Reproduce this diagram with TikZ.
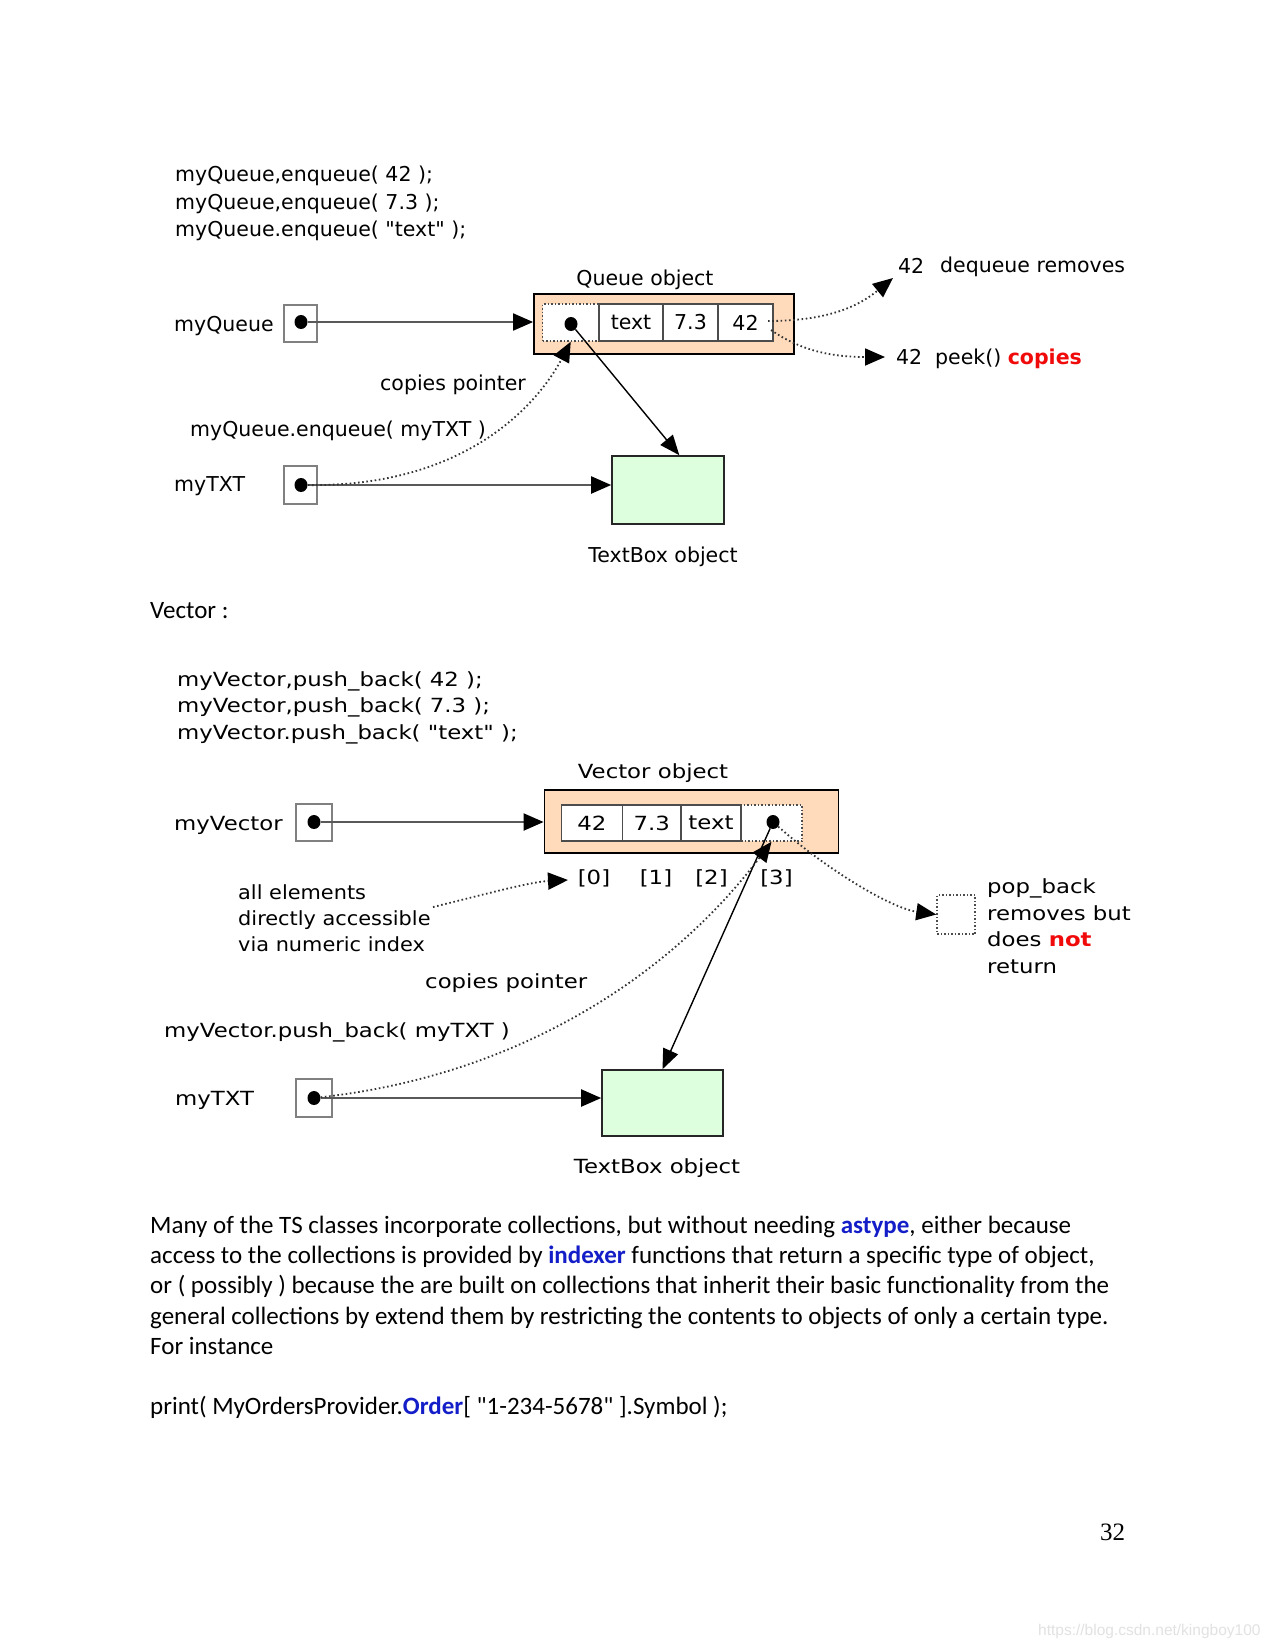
\documentclass[tikz,border=0pt]{standalone}
\usepackage{fontspec}
\setmainfont{Liberation Serif}
\newfontfamily\qfam{DejaVu Sans}
\newfontfamily\vfam[FakeStretch=1.17]{DejaVu Sans}
\newfontfamily\afam[FakeStretch=1.07]{DejaVu Sans}
\newfontfamily\bodyfam{Carlito}
\newfontfamily\wmfam{Liberation Sans}
\usetikzlibrary{arrows.meta,calc,shapes.geometric}
\definecolor{peach}{RGB}{255,219,188}
\definecolor{mint}{RGB}{222,255,222}
\definecolor{lnk}{RGB}{20,30,200}
\definecolor{hot}{RGB}{240,10,10}
\definecolor{wmk}{RGB}{226,226,226}
\newcommand\qfnt{\qfam\fontsize{20.5}{24}\selectfont}
\newcommand\vfnt{\vfam\fontsize{19.5}{23}\selectfont}
\newcommand\afnt{\afam\fontsize{19.5}{23}\selectfont}
\newcommand\bodyfnt{\bodyfam\fontsize{25}{30}\selectfont}
\tikzset{
  lbl/.style={inner sep=0pt, anchor=base west},
  qlbl/.style={lbl, font=\qfnt},
  vlbl/.style={lbl, font=\vfnt},
  albl/.style={lbl, font=\afnt},
  bodylbl/.style={lbl, font=\bodyfnt},
  outerbox/.style={draw=black, line width=1.8pt, fill=peach, inner sep=0pt},
  cellbox/.style={draw=black!70, line width=1.6pt, fill=white, inner sep=0pt},
  dotcell/.style={draw=black!70, line width=1.5pt, dash pattern=on 1.5pt off 2pt, fill=white, inner sep=0pt},
  ptrbox/.style={draw=black!50, line width=2.2pt, fill=white, inner sep=0pt},
  objbox/.style={draw=black!85, line width=1.6pt, fill=mint, inner sep=0pt},
  pdot/.style={ellipse, fill=black, inner sep=0pt, minimum width=13pt, minimum height=14pt},
  ptrline/.style={draw=black!65, line width=2pt, -{Triangle[length=20pt,width=17pt,color=black]}},
  solidarr/.style={draw=black, line width=1.4pt, -{Triangle[length=20pt,width=16pt]}},
  dotarr/.style={draw=black!80, line width=1.8pt, dash pattern=on 1.6pt off 2.6pt, -{Triangle[length=20pt,width=17pt,color=black]}}
}
\begin{document}
\begin{tikzpicture}[x=1pt,y=-1pt]
\useasboundingbox[fill=white] (0,0) rectangle (1275,1650);

% ---------------- Queue ----------------
\node[qlbl] (qcode1) at (175,181.5) {myQueue,enqueue( 42 );};
\node[qlbl] (qcode2) at (175,209) {myQueue,enqueue( 7.3 );};
\node[qlbl] (qcode3) at (175,236.5) {myQueue.enqueue( "text" );};
\node[qlbl, anchor=base] (qtitle) at (645,285) {Queue object};

\node[outerbox, minimum width=260pt, minimum height=60pt] (qobj) at (664,324) {};
\node[dotcell, minimum width=56.5pt, minimum height=37pt] (qc0) at (570.75,322.5) {};
\node[cellbox, minimum width=64pt, minimum height=37pt, font=\qfnt] (qc1) at (631,322.5) {text};
\node[cellbox, minimum width=55pt, minimum height=37pt, font=\qfnt] (qc2) at (690.5,322.5) {7.3};
\node[cellbox, minimum width=55pt, minimum height=37pt, font=\qfnt] (qc3) at (745.5,322.5) {42};
\node[pdot] (qdot) at (571,324) {};

\node[qlbl] (qname) at (174,331) {myQueue};
\node[ptrbox, minimum width=33pt, minimum height=37pt] (qpb) at (300.5,323.5) {};
\node[pdot] (qpd) at (301,322) {};

\node[qlbl] (qcp) at (380,390) {copies pointer};
\node[qlbl] (qenq) at (190,436) {myQueue.enqueue( myTXT )};
\node[qlbl] (qtxtname) at (174,491) {myTXT};
\node[ptrbox, minimum width=33pt, minimum height=38pt] (qtb) at (300.5,485) {};
\node[pdot] (qtd) at (301,485) {};
\node[objbox, minimum width=112pt, minimum height=68pt] (tq) at (668,490) {};
\node[qlbl, anchor=base] (qtbl) at (663,562) {TextBox object};

\node[qlbl] (d42) at (898,273.5) {42};
\node[qlbl] (dtext) at (940,272) {dequeue removes};
\node[qlbl] (p42) at (896,364.5) {42};
\node[qlbl] (ptext) at (935,364.5) {peek() {\color{hot}\bfseries copies}};

\draw[ptrline] (qpd) -- (qpd -| qobj.west);
\draw[solidarr] (qdot) -- (tq.72);
\draw[ptrline] (qtd) -- (qtd -| tq.west);
\draw[dotarr] (qtd) .. controls (470,487) and (540,400) .. (qc0.south);
\coordinate (deqs) at (768,321);
\coordinate (deqt) at (893,278);
\draw[dotarr] (deqs) .. controls (830,321) and (860,305) .. (deqt);
\coordinate (peks) at (771,330);
\coordinate (pekt) at (885,357);
\draw[dotarr] (peks) .. controls (800,350) and (830,357) .. (pekt);

% ---------------- Vector ----------------
\node[bodylbl] (vhead) at (150,618) {Vector :};
\node[vlbl] (vcode1) at (177,686) {myVector,push\_back( 42 );};
\node[vlbl] (vcode2) at (177,712.5) {myVector,push\_back( 7.3 );};
\node[vlbl] (vcode3) at (177,739) {myVector.push\_back( "text" );};
\node[vlbl, anchor=base] (vtitle) at (653,778) {Vector object};

\node[outerbox, minimum width=294pt, minimum height=63pt] (vobj) at (691.5,821.5) {};
\node[dotcell, minimum width=61pt, minimum height=36pt] (vc3) at (771.5,823) {};
\node[cellbox, minimum width=61pt, minimum height=36pt, font=\vfnt] (vc0) at (591.85,823) {42};
\node[cellbox, minimum width=58.7pt, minimum height=36pt, font=\vfnt] (vc1) at (651.65,823) {7.3};
\node[cellbox, minimum width=60pt, minimum height=36pt, font=\vfnt] (vc2) at (711,823) {text};
\node[pdot] (vdot) at (773,822) {};

\node[vlbl] (vname) at (174,830) {myVector};
\node[ptrbox, minimum width=36pt, minimum height=37pt] (vpb) at (314,822.5) {};
\node[pdot] (vpd) at (314,822) {};

\node[vlbl, anchor=base] (vi0) at (594,884) {[0]};
\node[vlbl, anchor=base] (vi1) at (656,884) {[1]};
\node[vlbl, anchor=base] (vi2) at (711.5,884) {[2]};
\node[vlbl, anchor=base] (vi3) at (776.5,884) {[3]};

\node[albl] (ae1) at (238,899) {all elements};
\node[albl] (ae2) at (238,925) {directly accessible};
\node[albl] (ae3) at (238,951) {via numeric index};

\node[dotcell, minimum width=38pt, minimum height=39pt] (popsq) at (956,914.5) {};
\node[vlbl] (pb1) at (987,893) {pop\_back};
\node[vlbl] (pb2) at (987,920) {removes but};
\node[vlbl] (pb3) at (987,946.5) {does {\color{hot}\bfseries not}};
\node[vlbl] (pb4) at (987,973) {return};

\node[vlbl] (vcp) at (425,988) {copies pointer};
\node[vlbl] (vpush) at (164,1037) {myVector.push\_back( myTXT )};
\node[vlbl] (vtxtname) at (175,1105) {myTXT};
\node[ptrbox, minimum width=36pt, minimum height=38pt] (vtb) at (314,1098) {};
\node[pdot] (vtd) at (314,1098) {};
\node[objbox, minimum width=121pt, minimum height=66pt] (tv) at (662.5,1103) {};
\node[vlbl, anchor=base] (vtbl) at (657,1173) {TextBox object};

\draw[ptrline] (vpd) -- (vpd -| vobj.west);
\draw[solidarr] (vdot) -- (tv.north);
\draw[ptrline] (vtd) -- (vtd -| tv.west);
\draw[dotarr] (vtd) .. controls (520,1075) and (671,975) .. (vc3.south);
\coordinate (aes) at (433,907);
\coordinate (aet) at (568,880);
\draw[dotarr] (aes) .. controls (490,893) and (530,882) .. (aet);
\draw[dotarr] (vdot) .. controls (825,868) and (890,908) .. (popsq.west);

% ---------------- Body text ----------------
\node[bodylbl] (b1) at (150,1233.5) {Many of the TS classes incorporate collections, but without needing {\color{lnk}\bfseries astype}, either because};
\node[bodylbl] (b2) at (150,1263.7) {access to the collections is provided by {\color{lnk}\bfseries indexer} functions that return a specific type of object,};
\node[bodylbl] (b3) at (150,1293.9) {or ( possibly ) because the are built on collections that inherit their basic functionality from the};
\node[bodylbl] (b4) at (150,1324.1) {general collections by extend them by restricting the contents to objects of only a certain type.};
\node[bodylbl] (b5) at (150,1354.3) {For instance};
\node[bodylbl] (b6) at (150,1414) {print( MyOrdersProvider.{\color{lnk}\bfseries Order}[ "1-234-5678" ].Symbol );};

\node[lbl, font=\fontsize{25}{30}\selectfont] (pg) at (1100,1540) {32};
\node[lbl, font=\wmfam\fontsize{15.5}{18}\selectfont, text=wmk] (wm) at (1038,1635) {https://blog.csdn.net/kingboy100};
\end{tikzpicture}
\end{document}
